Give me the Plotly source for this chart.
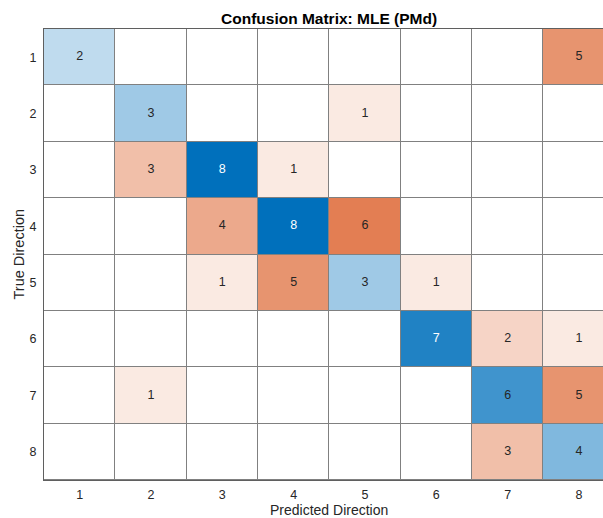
import numpy as np
import plotly.graph_objects as go

# Direction labels (1..8) shared by both axes
directions = [1, 2, 3, 4, 5, 6, 7, 8]

# Counts per true direction (rows) and predicted direction (columns)
row_1 = [2, 0, 0, 0, 0, 0, 0, 5]
row_2 = [0, 3, 0, 0, 1, 0, 0, 0]
row_3 = [0, 3, 8, 1, 0, 0, 0, 0]
row_4 = [0, 0, 4, 8, 6, 0, 0, 0]
row_5 = [0, 0, 1, 5, 3, 1, 0, 0]
row_6 = [0, 0, 0, 0, 0, 7, 2, 1]
row_7 = [0, 1, 0, 0, 0, 0, 6, 5]
row_8 = [0, 0, 0, 0, 0, 0, 3, 4]

counts = np.array([row_1, row_2, row_3, row_4, row_5, row_6, row_7, row_8], dtype=float)
n = len(directions)
cmax = counts.max()

on_diag = np.eye(n, dtype=bool)
diag_z = np.where(on_diag, counts, np.nan)
off_z = np.where(~on_diag, counts, np.nan)

FONT = "Liberation Sans, Arial, Helvetica, sans-serif"
TEXT_DARK = "rgb(38,38,38)"

fig = go.Figure()

# Correct predictions: white -> blue
fig.add_trace(go.Heatmap(
    x=directions, y=directions, z=diag_z,
    zmin=0, zmax=cmax,
    colorscale=[[0, "white"], [1, "rgb(0,112,188)"]],
    showscale=False, xgap=1, ygap=1, hoverinfo="skip",
))
# Misclassifications: white -> orange
fig.add_trace(go.Heatmap(
    x=directions, y=directions, z=off_z,
    zmin=0, zmax=cmax,
    colorscale=[[0, "white"], [1, "rgb(217,83,25)"]],
    showscale=False, xgap=1, ygap=1, hoverinfo="skip",
))

# Count labels on non-empty cells
tx, ty, tt, tc = [], [], [], []
for i in range(n):
    for j in range(n):
        v = counts[i, j]
        if v > 0:
            tx.append(directions[j])
            ty.append(directions[i])
            tt.append(str(int(v)))
            tc.append("white" if (on_diag[i, j] and v / cmax > 0.8) else TEXT_DARK)
fig.add_trace(go.Scatter(
    x=tx, y=ty, text=tt, mode="text",
    textfont=dict(family=FONT, size=12.5, color=tc),
    hoverinfo="skip", showlegend=False,
))

fig.update_layout(
    width=603, height=518,
    margin=dict(l=44, r=0, t=29, b=38),
    plot_bgcolor="rgb(128,128,128)",
    paper_bgcolor="white",
    showlegend=False,
    font=dict(family=FONT, size=12.5, color=TEXT_DARK),
    xaxis=dict(
        range=[0.5, 8.337], tickvals=directions, ticktext=[str(d) for d in directions],
        showgrid=False, zeroline=False, showline=True, mirror=True,
        linecolor="rgb(95,95,95)", linewidth=1,
        ticks="outside", ticklen=3, tickcolor="rgba(0,0,0,0)",
        tickfont=dict(size=12.5, color=TEXT_DARK),
    ),
    yaxis=dict(
        range=[8.5, 0.5], tickvals=directions, ticktext=[str(d) for d in directions],
        showgrid=False, zeroline=False, showline=True, mirror=False,
        linecolor="rgb(95,95,95)", linewidth=1,
        ticks="outside", ticklen=4, tickcolor="rgba(0,0,0,0)",
        tickfont=dict(size=12.5, color=TEXT_DARK),
    ),
    annotations=[
        dict(text="<b>Confusion Matrix: MLE (PMd)</b>", x=4.5, xref="x",
             y=1, yref="paper", yshift=11, yanchor="middle", showarrow=False,
             font=dict(family=FONT, size=15.5, color="black")),
        dict(text="Predicted Direction", x=4.5, xref="x",
             y=0, yref="paper", yshift=-30, yanchor="middle", showarrow=False,
             font=dict(family=FONT, size=14, color=TEXT_DARK)),
        dict(text="True Direction", x=0, xref="paper", xshift=18 - 44,
             y=0.5, yref="paper",
             showarrow=False, textangle=-90, xanchor="center",
             font=dict(family=FONT, size=14.5, color=TEXT_DARK)),
    ],
)

fig.write_html("out.html")
